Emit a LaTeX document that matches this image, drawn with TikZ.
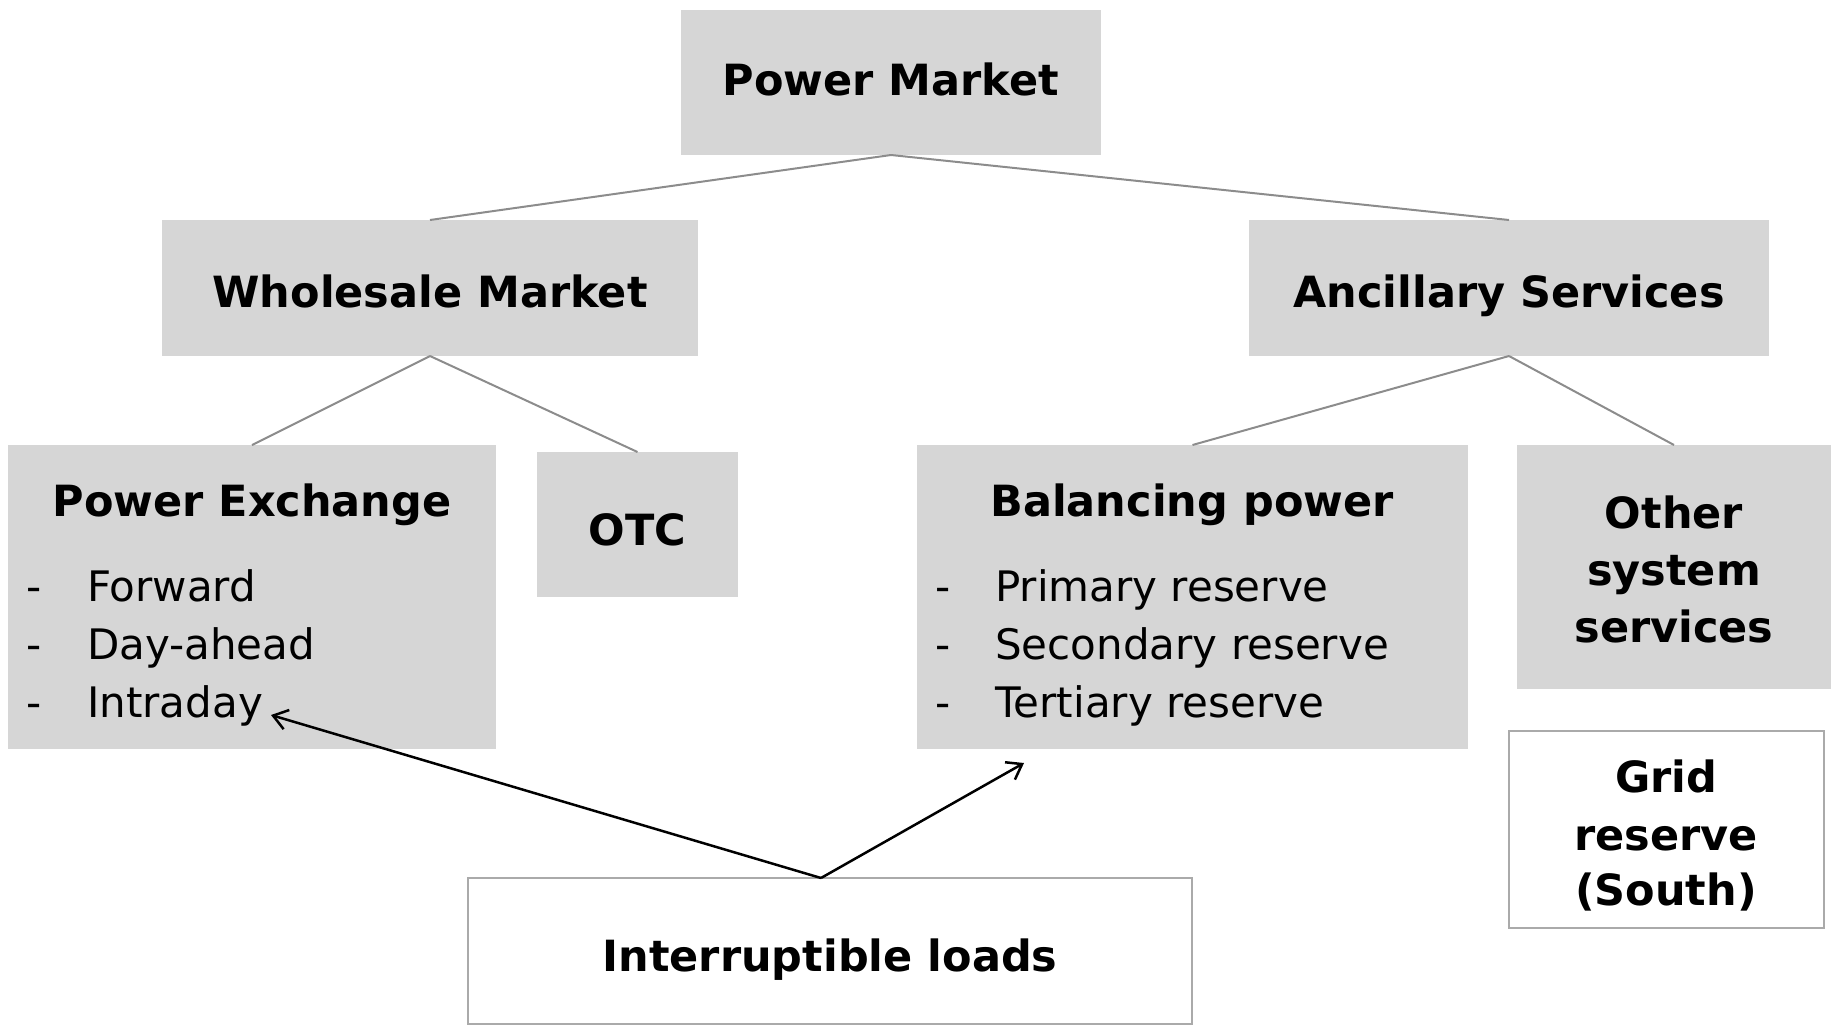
\documentclass[tikz,border=0pt]{standalone}
\usepackage{fontspec}
\setmainfont{DejaVu Sans}
\usetikzlibrary{arrows.meta}
\definecolor{boxgray}{RGB}{214,214,214}
\definecolor{linegray}{RGB}{140,140,140}
\definecolor{edgegray}{RGB}{170,170,170}
\tikzset{
 graybox/.style={fill=boxgray, draw=none, inner sep=0pt, outer sep=0pt},
 whitebox/.style={fill=white, draw=edgegray, line width=2pt, inner sep=0pt, outer sep=0pt},
 head/.style={font=\fontsize{43}{50}\selectfont\bfseries, anchor=base, inner sep=0pt},
 itemtext/.style={font=\fontsize{42}{50}\selectfont, anchor=base west, inner sep=0pt},
 tree/.style={draw=linegray, line width=2pt},
 arr/.style={draw=black, line width=2.5pt, -{Straight Barb[length=14pt,width=20pt,line width=2.5pt]}},
}
\begin{document}
\begin{tikzpicture}[x=1pt,y=-1pt]
\useasboundingbox (0,0) rectangle (1831,1026);
% boxes
\node[graybox, minimum width=420pt, minimum height=145pt] (pm) at (891,82.5) {};
\node[graybox, minimum width=536pt, minimum height=136pt] (wm) at (430,288) {};
\node[graybox, minimum width=520pt, minimum height=136pt] (as) at (1509,288) {};
\node[graybox, minimum width=488pt, minimum height=304pt] (pe) at (252,597) {};
\node[graybox, minimum width=201pt, minimum height=145pt] (otc) at (637.5,524.5) {};
\node[graybox, minimum width=551pt, minimum height=304pt] (bp) at (1192.5,597) {};
\node[graybox, minimum width=314pt, minimum height=244pt] (oss) at (1674,567) {};
\node[whitebox, minimum width=315pt, minimum height=197pt] (gr) at (1666.5,829.5) {};
\node[whitebox, minimum width=724pt, minimum height=146pt] (il) at (830,951) {};
% tree connectors
\draw[tree] (pm.south) -- (wm.north);
\draw[tree] (pm.south) -- (as.north);
\draw[tree] (wm.south) -- (pe.north);
\draw[tree] (wm.south) -- (otc.north);
\draw[tree] (as.south) -- (bp.north);
\draw[tree] (as.south) -- (oss.north);
% texts
\node[head] (tpm) at (891,95) {Power Market};
\node[head] (twm) at (430,307) {Wholesale Market};
\node[head] (tas) at (1509,307) {Ancillary Services};
\node[head] (tpe) at (252,516) {Power Exchange};
\node[head] (totc) at (637.5,545) {OTC};
\node[head] (tbp) at (1192,516) {Balancing power};
\node[head] (toss1) at (1674,528) {Other};
\node[head] (toss2) at (1674,585) {system};
\node[head] (toss3) at (1674,642) {services};
\node[head] (tgr1) at (1666,792) {Grid};
\node[head] (tgr2) at (1666,850) {reserve};
\node[head] (tgr3) at (1666,905) {(South)};
\node[head] (til) at (830,971) {Interruptible loads};
% list items
\node[itemtext] (d1) at (26,601) {-};
\node[itemtext] (d2) at (26,659) {-};
\node[itemtext] (d3) at (26,717) {-};
\node[itemtext] (i1) at (87,601) {Forward};
\node[itemtext] (i2) at (87,659) {Day-ahead};
\node[itemtext] (i3) at (87,717) {Intraday};
\node[itemtext] (e1) at (935,601) {-};
\node[itemtext] (e2) at (935,659) {-};
\node[itemtext] (e3) at (935,717) {-};
\node[itemtext] (j1) at (995,601) {Primary reserve};
\node[itemtext] (j2) at (995,659) {Secondary reserve};
\node[itemtext] (j3) at (995,717) {Tertiary reserve};
% arrows
\coordinate (ilt) at (821,878);
\coordinate (a1) at (271,715);
\coordinate (a2) at (1024,763);
\draw[arr] (ilt) -- (a1);
\draw[arr] (ilt) -- (a2);
\end{tikzpicture}
\end{document}
